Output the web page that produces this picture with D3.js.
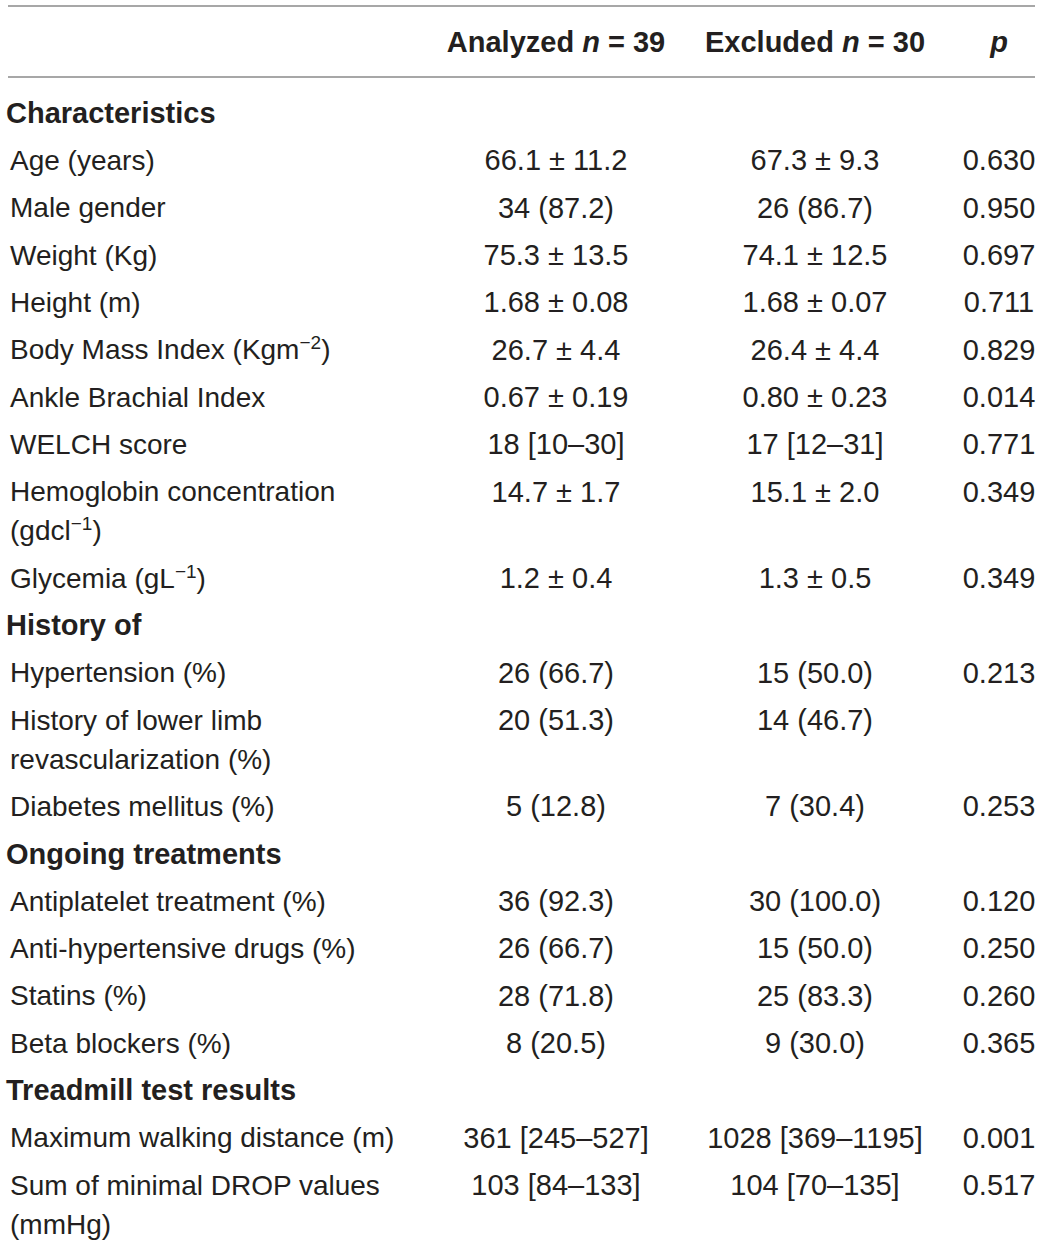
<!DOCTYPE html>
<html>
<head>
<meta charset="utf-8">
<script src="https://cdn.jsdelivr.net/npm/d3@7"></script>
<style>
  body { margin: 0; background: #fff; }
  svg text { font-family: "Liberation Sans", Arial, sans-serif; fill: #231f20; }
</style>
</head>
<body>
<div id="tableDiv"></div>
<script>
var W = 1043, H = 1246;

// header columns
var headers = [
    {parts: [["Analyzed ", ""], ["n", "i"], [" = 39", ""]], col: 1},
    {parts: [["Excluded ", ""], ["n", "i"], [" = 30", ""]], col: 2},
    {parts: [["p", "i"]], col: 3}
];

// row kind: "s" = section header, "r" = data row ; "^" marks superscript
var rowKinds = ["s", "r", "r", "r", "r", "r", "r", "r", "r", "r",
    "s", "r", "r", "r",
    "s", "r", "r", "r", "r",
    "s", "r", "r"];
var rowLabels = [
    ["Characteristics"],
    ["Age (years)"],
    ["Male gender"],
    ["Weight (Kg)"],
    ["Height (m)"],
    ["Body Mass Index (Kgm^−2^)"],
    ["Ankle Brachial Index"],
    ["WELCH score"],
    ["Hemoglobin concentration", "(gdcl^−1^)"],
    ["Glycemia (gL^−1^)"],
    ["History of"],
    ["Hypertension (%)"],
    ["History of lower limb", "revascularization (%)"],
    ["Diabetes mellitus (%)"],
    ["Ongoing treatments"],
    ["Antiplatelet treatment (%)"],
    ["Anti-hypertensive drugs (%)"],
    ["Statins (%)"],
    ["Beta blockers (%)"],
    ["Treadmill test results"],
    ["Maximum walking distance (m)"],
    ["Sum of minimal DROP values", "(mmHg)"]
];
var analyzed = ["", "66.1 ± 11.2", "34 (87.2)", "75.3 ± 13.5", "1.68 ± 0.08", "26.7 ± 4.4",
    "0.67 ± 0.19", "18 [10–30]", "14.7 ± 1.7", "1.2 ± 0.4",
    "", "26 (66.7)", "20 (51.3)", "5 (12.8)",
    "", "36 (92.3)", "26 (66.7)", "28 (71.8)", "8 (20.5)",
    "", "361 [245–527]", "103 [84–133]"];
var excluded = ["", "67.3 ± 9.3", "26 (86.7)", "74.1 ± 12.5", "1.68 ± 0.07", "26.4 ± 4.4",
    "0.80 ± 0.23", "17 [12–31]", "15.1 ± 2.0", "1.3 ± 0.5",
    "", "15 (50.0)", "14 (46.7)", "7 (30.4)",
    "", "30 (100.0)", "15 (50.0)", "25 (83.3)", "9 (30.0)",
    "", "1028 [369–1195]", "104 [70–135]"];
var pValues = ["", "0.630", "0.950", "0.697", "0.711", "0.829",
    "0.014", "0.771", "0.349", "0.349",
    "", "0.213", "", "0.253",
    "", "0.120", "0.250", "0.260", "0.365",
    "", "0.001", "0.517"];

var labelSize = 28, valueSize = 29, boldSize = 29;
var rowStep = 47.33, lineStep = 39;
var firstRowY = 113, headerY = 42;
var colX = {1: 556, 2: 815, 3: 999};

var svg = d3.select("#tableDiv").append("svg")
    .attr("width", W).attr("height", H);

// rules
svg.append("line").attr("x1", 8).attr("x2", 1035).attr("y1", 6).attr("y2", 6)
    .style("stroke", "#a7a7a7").style("stroke-width", 2);
svg.append("line").attr("x1", 8).attr("x2", 1035).attr("y1", 77).attr("y2", 77)
    .style("stroke", "#a7a7a7").style("stroke-width", 2);

// header
var hd = svg.selectAll("text.hdr").data(headers).enter().append("text")
    .attr("class", "hdr")
    .attr("x", function (d) { return colX[d.col]; })
    .attr("y", headerY).attr("dy", "0.35em")
    .attr("text-anchor", "middle")
    .style("font-size", boldSize + "px").style("font-weight", "bold");
hd.each(function (d) {
    var t = d3.select(this);
    d.parts.forEach(function (p) {
        t.append("tspan").text(p[0]).style("font-style", p[1] == "i" ? "italic" : "normal");
    });
});

// y of every row (center of its first line)
var rowY = [];
var y = firstRowY;
rowLabels.forEach(function (lines, i) {
    rowY.push(y);
    y += rowStep + lineStep * (lines.length - 1);
});

var rows = rowLabels.map(function (lines, i) {
    return {lines: lines, kind: rowKinds[i], a: analyzed[i], e: excluded[i], p: pValues[i], y: rowY[i]};
});

function addLabel(t, str) {
    // split on ^ ; odd pieces are superscripts
    str.split("^").forEach(function (piece, k) {
        if (!piece) return;
        var ts = t.append("tspan").text(piece);
        if (k % 2 == 1) ts.attr("baseline-shift", "super").style("font-size", "19px");
    });
}

var rowG = svg.selectAll("g.row").data(rows).enter().append("g")
    .attr("class", "row")
    .attr("transform", function (d) { return "translate(0," + d.y + ")"; });

rowG.each(function (d) {
    var g = d3.select(this);
    d.lines.forEach(function (line, k) {
        var t = g.append("text")
            .attr("x", d.kind == "s" ? 6 : 10)
            .attr("y", k * lineStep).attr("dy", "0.35em")
            .style("font-size", (d.kind == "s" ? boldSize : labelSize) + "px")
            .style("font-weight", d.kind == "s" ? "bold" : "normal");
        addLabel(t, line);
    });
    [["a", 1], ["e", 2], ["p", 3]].forEach(function (c) {
        if (!d[c[0]]) return;
        g.append("text").attr("x", colX[c[1]]).attr("y", 0).attr("dy", "0.35em")
            .attr("text-anchor", "middle")
            .style("font-size", valueSize + "px")
            .text(d[c[0]]);
    });
});
</script>
</body>
</html>
